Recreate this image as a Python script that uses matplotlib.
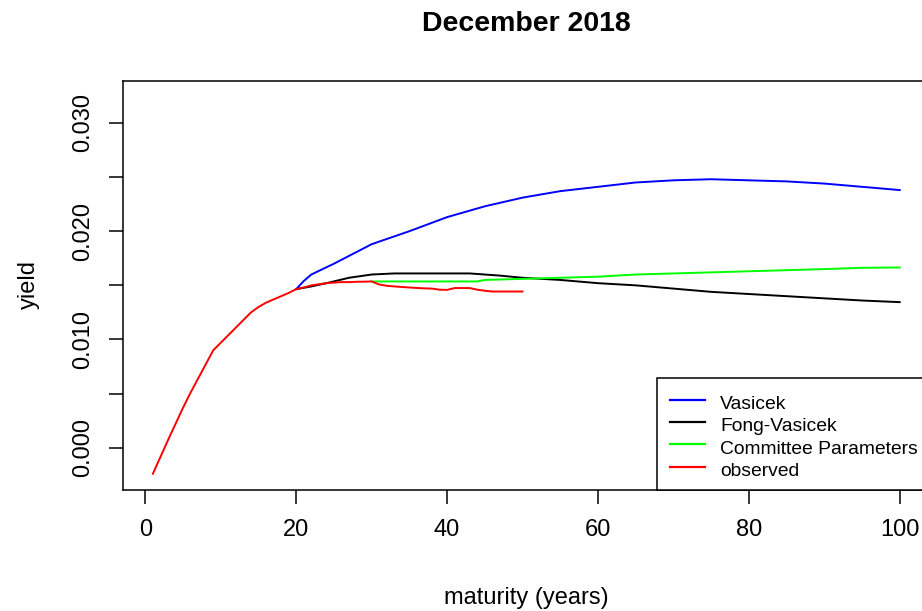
import matplotlib
matplotlib.use("Agg")
import matplotlib.pyplot as plt
from matplotlib.patches import Rectangle
from matplotlib.lines import Line2D

# ---- data ----
obs_mat = list(range(1, 51))
obs_yield = [-0.0024, -0.00085, 0.0007, 0.0022, 0.0037, 0.0051, 0.0064, 0.0077, 0.0090, 0.0097,
             0.0104, 0.0111, 0.0118, 0.0125, 0.0130, 0.0134, 0.0137, 0.0140, 0.0143, 0.01465,
             0.0148, 0.0150, 0.0151, 0.0152, 0.01525, 0.0153, 0.0153, 0.01533, 0.01534, 0.01536,
             0.01508, 0.01496, 0.0149, 0.01485, 0.0148, 0.01476, 0.01472, 0.0147, 0.0146, 0.01458,
             0.01475, 0.01475, 0.01475, 0.0146, 0.0145, 0.01443, 0.01443, 0.01443, 0.01443, 0.01443]

vas_mat = [20, 21, 22, 25, 30, 35, 40, 45, 50, 55, 60, 65, 70, 75, 80, 85, 90, 95, 100]
vas_yield = [0.01465, 0.0154, 0.0160, 0.0170, 0.0188, 0.0200, 0.0213, 0.0223, 0.0231, 0.0237,
             0.0241, 0.0245, 0.0247, 0.0248, 0.0247, 0.0246, 0.0244, 0.0241, 0.0238]

fv_mat = [20, 22, 24, 27, 30, 33, 40, 43, 47, 50, 55, 60, 65, 70, 75, 80, 85, 90, 95, 100]
fv_yield = [0.01465, 0.0149, 0.0152, 0.0157, 0.0160, 0.0161, 0.0161, 0.0161, 0.0159, 0.0157,
            0.0155, 0.0152, 0.0150, 0.0147, 0.0144, 0.0142, 0.0140, 0.0138, 0.0136, 0.01345]

cp_mat = [30, 35, 40, 44, 45, 50, 55, 60, 65, 70, 75, 80, 85, 90, 95, 100]
cp_yield = [0.01536, 0.01536, 0.01536, 0.01536, 0.0155, 0.0156, 0.0157, 0.0158, 0.0160, 0.0161,
            0.0162, 0.0163, 0.0164, 0.0165, 0.01662, 0.01665]

x_ticks = [0, 20, 40, 60, 80, 100]
y_ticks = [0.000, 0.005, 0.010, 0.015, 0.020, 0.025, 0.030]
y_tick_labels = ["0.000", "", "0.010", "", "0.020", "", "0.030"]

legend_labels = ["Vasicek", "Fong-Vasicek", "Committee Parameters", "observed"]
colors = ["#0000ff", "#000000", "#00ff00", "#ff0000"]

# ---- figure ----
W, H = 922, 611
plt.rcParams['font.family'] = ['Liberation Sans', 'DejaVu Sans']
fig = plt.figure(figsize=(W / 100, H / 100), dpi=100)

L, R, T, B = 123, 929.6, 80.7, 490
ax = fig.add_axes([L / W, 1 - B / H, (R - L) / W, (B - T) / H])

lw = 1.4
ax.plot(vas_mat, vas_yield, color=colors[0], lw=lw)
ax.plot(fv_mat, fv_yield, color=colors[1], lw=lw)
ax.plot(cp_mat, cp_yield, color=colors[2], lw=lw)
ax.plot(obs_mat, obs_yield, color=colors[3], lw=lw)

ax.set_xlim(-2.96, 103.96)
ax.set_ylim(-0.0039, 0.0339)
ax.set_xticks(x_ticks)
ax.set_xticklabels([str(v) for v in x_ticks])
ax.set_yticks(y_ticks)
ax.set_yticklabels(y_tick_labels, rotation=90, va='center')

for s in ax.spines.values():
    s.set_linewidth(1.1)
ax.tick_params(axis='both', length=10, width=1.1, labelsize=17, pad=11, direction='out')

def fx(px):
    return px / W

def fy(py):
    return 1 - py / H

fig.text(fx(526), fy(31), "December 2018", ha='center', va='baseline',
         fontsize=20.5, fontweight='bold')
fig.text(fx(526), fy(604), "maturity (years)", ha='center', va='baseline', fontsize=17)
fig.text(fx(29), fy(285), "yield", ha='center', va='center', rotation=90, fontsize=17)

# ---- legend ----
lx0, ly0, lx1, ly1 = 657, 378, 929.6, 490
fig.patches.append(Rectangle((fx(lx0), fy(ly1)), fx(lx1) - fx(lx0), fy(ly0) - fy(ly1),
                             transform=fig.transFigure, facecolor='white',
                             edgecolor='black', linewidth=1.1, zorder=5))
for i, (lab, c) in enumerate(zip(legend_labels, colors)):
    yl = 399.5 + 22.4 * i
    fig.lines.append(Line2D([fx(670), fx(705)], [fy(yl), fy(yl)], transform=fig.transFigure,
                            color=c, lw=1.6, zorder=6))
    fig.text(fx(720), fy(yl + 9.5), lab, ha='left', va='baseline', fontsize=13.9, zorder=6)

fig.savefig("out.png", dpi=100)
